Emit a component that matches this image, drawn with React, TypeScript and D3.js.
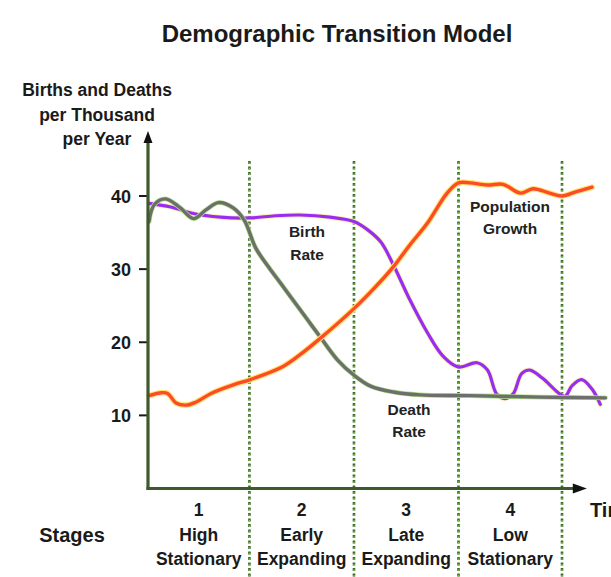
import React from "react";
import * as d3 from "d3";

// ---- data (time in stage units, rates per thousand per year) ----
const deathT = [0.01, 0.06, 0.17, 0.31, 0.44, 0.56, 0.68, 0.82, 0.93, 1.04, 1.17, 1.28, 1.41, 1.54, 1.67, 1.83, 1.99, 2.15, 2.37, 2.63, 3.11, 3.79, 4.42];
const deathV = [36.5, 38.8, 39.6, 38.4, 36.9, 38.1, 39.1, 38.4, 36.7, 32.9, 30.2, 28.1, 25.6, 23.1, 20.6, 17.6, 15.5, 14.0, 13.2, 12.8, 12.7, 12.5, 12.4];

const birthT = [0.01, 0.22, 0.44, 0.7, 0.99, 1.23, 1.47, 1.76, 1.99, 2.12, 2.25, 2.37, 2.53, 2.7, 2.85, 3.0, 3.18, 3.28, 3.37, 3.45, 3.53, 3.61, 3.69, 3.81, 3.98, 4.03, 4.1, 4.19, 4.29, 4.37];
const birthV = [39.0, 38.5, 37.6, 37.1, 37.0, 37.3, 37.4, 37.1, 36.5, 35.4, 33.7, 30.6, 25.8, 21.3, 18.1, 16.6, 17.2, 16.2, 12.9, 12.3, 13.0, 15.7, 16.2, 15.1, 12.9, 12.6, 14.1, 14.9, 13.6, 11.5];

const popT = [0.01, 0.13, 0.19, 0.27, 0.37, 0.46, 0.61, 0.83, 0.99, 1.28, 1.45, 1.67, 1.99, 2.2, 2.37, 2.53, 2.7, 2.89, 3.0, 3.11, 3.28, 3.43, 3.6, 3.72, 3.88, 4.0, 4.14, 4.29];
const popV = [12.7, 13.1, 13.0, 11.7, 11.4, 11.8, 13.0, 14.2, 14.9, 16.5, 18.1, 20.6, 24.6, 27.6, 30.3, 33.3, 36.3, 40.4, 41.8, 41.8, 41.5, 41.6, 40.4, 41.0, 40.4, 40.0, 40.6, 41.2];

const yTicks = [10, 20, 30, 40];
const stageEdges = [0.98, 1.99, 3.0, 4.0];
const stageNumbers = ["1", "2", "3", "4"];
const stageLine1 = ["High", "Early", "Late", "Low"];
const stageLine2 = ["Stationary", "Expanding", "Expanding", "Stationary"];
const yLabelLines = ["Births and Deaths", "per Thousand", "per Year"];

const W = 611;
const H = 577;
const FONT = "'Liberation Sans', Arial, Helvetica, sans-serif";

export default function App() {
  const x = d3.scaleLinear().domain([0, 4]).range([148, 562]);
  const y = d3.scaleLinear().domain([0, 40]).range([488.5, 196]);

  const line = d3
    .line<[number, number]>()
    .x((d) => x(d[0]))
    .y((d) => y(d[1]))
    .curve(d3.curveCatmullRom.alpha(0.5));

  const death = line(deathT.map((t, i) => [t, deathV[i]] as [number, number])) || "";
  const birth = line(birthT.map((t, i) => [t, birthV[i]] as [number, number])) || "";
  const pop = line(popT.map((t, i) => [t, popV[i]] as [number, number])) || "";

  const x0 = x(0);
  const y0 = y(0);
  const axisEnd = x(4.24);
  const axisTop = y(48.9);
  const stageStarts = [0, ...stageEdges.slice(0, 3)];
  const mids = stageEdges.map((e, i) => (x(stageStarts[i]) + x(e)) / 2);

  return (
    <svg
      width={W}
      height={H}
      style={{ position: "absolute", left: 0, top: 0, background: "#fff" }}
      fontFamily={FONT}
    >
      <rect width={W} height={H} fill="#fff" />
      <text x={337} y={42} textAnchor="middle" fontSize={24} fontWeight="bold" fill="#1a1a1a">
        Demographic Transition Model
      </text>

      {yLabelLines.map((s, i) => (
        <text key={s} x={97} y={96 + i * 24.5} textAnchor="middle" fontSize={17.5} fontWeight="bold" fill="#1a1a1a">
          {s}
        </text>
      ))}

      {/* stage separators */}
      {stageEdges.map((e, i) => (
        <g key={i}>
          <line x1={x(e)} x2={x(e)} y1={y(44.8)} y2={H} stroke="#3f6b2a" strokeWidth={2.6} strokeDasharray="3 2.5" />
          <line x1={x(e)} x2={x(e)} y1={y(44.8) + 1.5} y2={H} stroke="#6fc93f" strokeWidth={1.4} strokeDasharray="1.5 4" />
        </g>
      ))}

      {/* y ticks */}
      {yTicks.map((t) => (
        <g key={t}>
          <line x1={139} x2={x0} y1={y(t)} y2={y(t)} stroke="#1a1a1a" strokeWidth={2} />
          <text x={131} y={y(t) + 6.5} textAnchor="end" fontSize={18} fontWeight="bold" fill="#1a1a1a">
            {t}
          </text>
        </g>
      ))}

      {/* curves */}
      <path d={birth} fill="none" stroke="#f2e27a" strokeWidth={5} strokeOpacity={0.55} strokeLinecap="round" />
      <path d={birth} fill="none" stroke="#9a2cf2" strokeWidth={3.2} strokeLinecap="round" />
      <path d={death} fill="none" stroke="#b4e38e" strokeWidth={4.8} strokeLinecap="round" />
      <path d={death} fill="none" stroke="#6c6f6a" strokeWidth={3.4} strokeLinecap="round" />
      <path d={pop} fill="none" stroke="#ffe36a" strokeWidth={5.6} strokeLinecap="round" />
      <path d={pop} fill="none" stroke="#ff4a2a" strokeWidth={3.4} strokeLinecap="round" />

      {/* axes */}
      <line x1={x0} x2={x0} y1={y0 + 1.5} y2={axisTop + 10} stroke="#3c5a2c" strokeWidth={3.2} />
      <path d={`M${x0 - 4.5},${axisTop + 12} L${x0},${axisTop} L${x0 + 4.5},${axisTop + 12} Z`} fill="#111" />
      <line x1={x0 - 1.5} x2={axisEnd - 12} y1={y0} y2={y0} stroke="#3c5a2c" strokeWidth={3.2} />
      <path d={`M${axisEnd - 14},${y0 - 5} L${axisEnd},${y0} L${axisEnd - 14},${y0 + 5} Z`} fill="#111" />

      {/* curve labels */}
      <g fontSize={15.5} fontWeight="bold" fill="#222" textAnchor="middle">
        <text x={307} y={237}>Birth</text>
        <text x={307} y={260}>Rate</text>
        <text x={510} y={212}>Population</text>
        <text x={510} y={234}>Growth</text>
        <text x={409} y={415}>Death</text>
        <text x={409} y={437}>Rate</text>
      </g>

      {/* stage labels */}
      <g fontSize={17.5} fontWeight="bold" fill="#1a1a1a" textAnchor="middle">
        {mids.map((m, i) => (
          <g key={i}>
            <text x={m} y={516}>{stageNumbers[i]}</text>
            <text x={m} y={541}>{stageLine1[i]}</text>
            <text x={m} y={565}>{stageLine2[i]}</text>
          </g>
        ))}
      </g>
      <text x={72} y={542} textAnchor="middle" fontSize={20} fontWeight="bold" fill="#1a1a1a">
        Stages
      </text>
      <text x={590} y={517} fontSize={20} fontWeight="bold" fill="#1a1a1a">
        Time
      </text>
    </svg>
  );
}
